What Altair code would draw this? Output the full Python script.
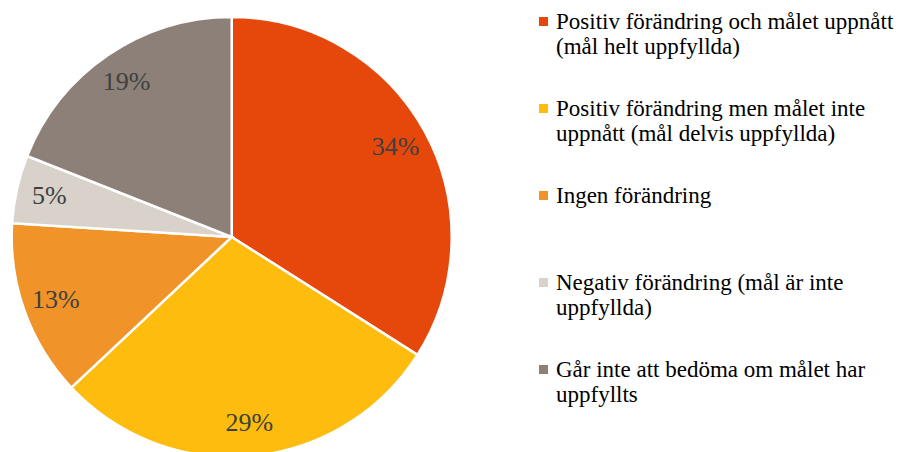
import altair as alt
import pandas as pd

categories = [
    "Positiv förändring och målet uppnått\n(mål helt uppfyllda)",
    "Positiv förändring men målet inte\nuppnått (mål delvis uppfyllda)",
    "Ingen förändring\n ",
    "Negativ förändring (mål är inte\nuppfyllda)",
    "Går inte att bedöma om målet har\nuppfyllts",
]
values = [34, 29, 13, 5, 19]
labels = ["34%", "29%", "13%", "5%", "19%"]
palette = ["#E6470B", "#FDBC0E", "#F09328", "#D8D2CB", "#8C8078"]

FONT = "'Liberation Serif', 'Times New Roman', 'DejaVu Serif', serif"

df = pd.DataFrame({
    "cat": categories,
    "val": values,
    "lab": labels,
    "idx": list(range(len(values))),
})

theta = alt.Theta("val:Q", stack=True)
order = alt.Order("idx:Q")
cx = alt.value(223.7)
cy = alt.value(229)

pie = alt.Chart(df).mark_arc(outerRadius=220, stroke="white", strokeWidth=2.5).encode(
    theta=theta,
    order=order,
    x=cx,
    y=cy,
    color=alt.Color(
        "cat:N",
        sort=categories,
        scale=alt.Scale(domain=categories, range=palette),
        legend=alt.Legend(
            title=None,
            orient="none",
            legendX=524,
            legendY=2,
            padding=0,
            symbolType="square",
            symbolSize=81,
            symbolStrokeWidth=0,
            labelFont=FONT,
            labelFontSize=23,
            labelColor="#000000",
            labelLimit=600,
            labelOffset=1,
            labelBaseline="middle",
            labelExpr="split(datum.label, '\\n')",
            rowPadding=38,
        ),
    ),
)

text = alt.Chart(df).mark_text(
    radius=187, font=FONT, fontSize=26, color="#404040"
).encode(
    theta=theta,
    order=order,
    x=cx,
    y=cy,
    text="lab:N",
)

chart = (pie + text).properties(
    width=899,
    height=444,
    padding=0,
    autosize=alt.AutoSizeParams(type="none"),
).configure_view(stroke=None)

chart.save("out.html", embed_options={"renderer": "svg", "actions": False})
